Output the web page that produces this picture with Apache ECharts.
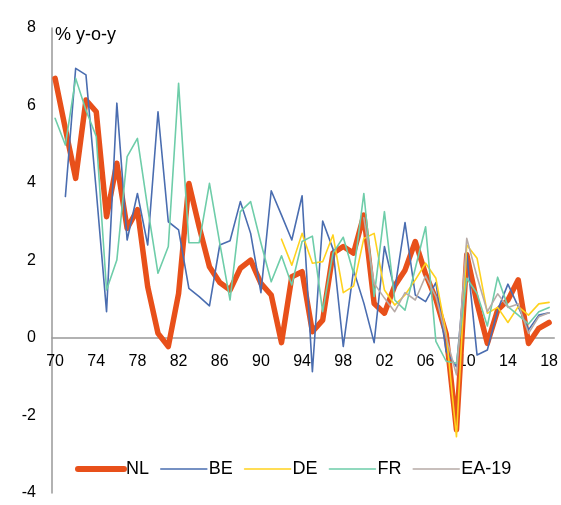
<!DOCTYPE html>
<html>
<head>
<meta charset="utf-8">
<script src="https://cdn.jsdelivr.net/npm/echarts@6/dist/echarts.min.js"></script>
<style>html,body{margin:0;padding:0;background:#fff;}#c{width:561px;height:505px;}</style>
</head>
<body>
<div id="c"></div>
<script>
const years = [];
for (let y = 1970; y <= 2018; y++) years.push(y);
const xTickYears = [1970,1974,1978,1982,1986,1990,1994,1998,2002,2006,2010,2014,2018];
const yTicks = [-4,-2,0,2,4,6,8];
const seriesNames = ['NL','BE','DE','FR','EA-19'];

const NL = [6.70,5.40,4.12,6.14,5.84,3.13,4.51,2.83,3.31,1.32,
            0.12,-0.22,1.15,3.99,2.87,1.84,1.43,1.24,1.80,2.01,
            1.41,1.11,-0.12,1.58,1.71,0.16,0.46,2.19,2.36,2.19,
            3.17,0.89,0.64,1.35,1.75,2.49,1.65,1.00,0.10,-2.37,
            2.15,0.90,-0.14,0.72,0.98,1.50,-0.14,0.25,0.40];
const BE = [null,3.65,6.96,6.79,3.80,0.68,6.06,2.53,3.73,2.40,
            5.84,3.00,2.79,1.28,1.07,0.83,2.40,2.51,3.52,2.70,
            1.17,3.80,3.17,2.53,3.67,-0.87,3.02,2.30,-0.22,1.75,
            0.90,-0.12,2.36,1.24,2.98,1.11,0.94,1.43,-0.35,-0.74,
            2.19,-0.44,-0.31,0.72,1.39,0.81,0.21,0.59,0.65];
const DE = [null,null,null,null,null,null,null,null,null,null,
            null,null,null,null,null,null,null,null,null,null,
            null,null,2.55,1.88,2.70,1.93,1.97,2.66,1.17,1.34,
            2.57,2.70,1.24,0.85,1.11,1.50,1.93,1.54,0.12,-2.55,
            2.40,2.06,0.64,0.79,0.40,0.81,0.59,0.88,0.92];
const FR = [5.67,4.98,6.70,5.88,5.20,1.24,2.01,4.68,5.15,3.35,
            1.67,2.36,6.57,2.46,2.46,3.99,2.45,0.98,3.26,3.52,
            2.45,1.45,2.12,1.37,2.49,2.63,0.68,2.19,2.60,1.67,
            3.73,1.07,3.26,0.98,0.72,1.80,2.87,-0.09,-0.60,-0.65,
            1.54,1.15,0.31,1.57,0.81,0.59,0.36,0.68,0.79];
const EA19 = [null,null,null,null,null,null,null,null,null,null,
            null,null,null,null,null,null,null,null,null,null,
            null,null,null,null,null,null,null,null,null,null,
            3.10,1.41,1.03,0.68,1.17,0.98,1.60,1.07,0.03,-0.95,
            2.57,1.58,0.68,1.14,0.79,0.88,0.12,0.55,0.65];

const colors = {NL:'#E8501A', BE:'#4A6DB0', DE:'#FFD21E', FR:'#6ECDA9', 'EA-19':'#B7ABA7'};
const widths = {NL:5.5, BE:1.6, DE:1.6, FR:1.6, 'EA-19':1.6};
const dataMap = {NL:NL, BE:BE, DE:DE, FR:FR, 'EA-19':EA19};

const font = 'Liberation Sans, Arial, sans-serif';
const chart = echarts.init(document.getElementById('c'), null, {renderer:'canvas'});
chart.setOption({
  animation: false,
  backgroundColor: '#fff',
  grid: {left: 52, right: 6, top: 28, bottom: 12, containLabel: false},
  xAxis: {
    type: 'value', min: 1969.7, max: 2018.5,
    position: 'bottom', offset: -155,
    axisLine: {onZero: false, lineStyle: {color: '#999', width: 1.5}},
    axisTick: {show: false},
    splitLine: {show: false},
    axisLabel: {
      customValues: xTickYears,
      formatter: v => String(Math.round(v) % 100).padStart(2,'0'),
      color: '#000', fontSize: 16, fontFamily: font, margin: 16
    }
  },
  yAxis: {
    type: 'value', min: -4, max: 8, interval: 2,
    axisLine: {show: true, onZero: false, lineStyle: {color: '#999', width: 1.5}},
    axisTick: {show: false},
    splitLine: {show: false},
    axisLabel: {
      customValues: yTicks,
      color: '#000', fontSize: 16, fontFamily: font, margin: 16
    }
  },
  legend: {
    data: seriesNames.map(n => ({
      name: n,
      lineStyle: {width: widths[n] > 3 ? 6 : 1.6, cap: 'round'}
    })),
    left: 70, top: 455,
    itemWidth: 46, itemHeight: 14, itemGap: 11,
    itemStyle: {opacity: 0},
    textStyle: {color: '#000', fontSize: 18, fontFamily: font, padding: [0,0,0,-3]}
  },
  graphic: [{
    type: 'text', left: 55, top: 26,
    style: {text: '% y-o-y', fill: '#000', font: '18px ' + font}
  }],
  series: seriesNames.map(n => ({
    name: n, type: 'line', symbol: 'none', connectNulls: false,
    data: years.map((y,i) => [y, dataMap[n][i]]),
    lineStyle: {color: colors[n], width: widths[n], cap: 'round', join: 'round'},
    itemStyle: {color: colors[n]},
    z: 2
  }))
});
</script>
</body>
</html>
